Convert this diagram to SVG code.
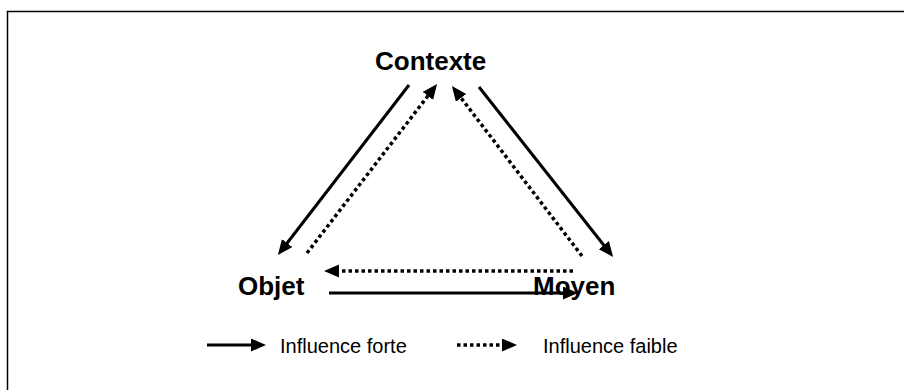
<svg xmlns="http://www.w3.org/2000/svg" width="904" height="390" viewBox="0 0 904 390">
<style>
.lbl{font-family:"Liberation Sans",Arial,sans-serif;font-weight:bold;font-size:26px;fill:#000}
.leg{font-family:"Liberation Sans",Arial,sans-serif;font-size:20px;fill:#000}
.strong{stroke:#000;stroke-width:3;fill:none;marker-end:url(#ah)}
.weak{stroke:#000;stroke-width:3.5;stroke-dasharray:3.5 3;fill:none;marker-end:url(#ah)}
</style>
<defs>
<marker id="ah" markerUnits="userSpaceOnUse" markerWidth="16" markerHeight="14" refX="10" refY="6.5" orient="auto">
<path d="M0,0 L15,6.5 L0,13 z" fill="#000"/>
</marker>
</defs>
<rect width="904" height="390" fill="#fff"/>
<path d="M7.5,390 V11.5 H904" fill="none" stroke="#000" stroke-width="1.5"/>
<g id="node-contexte"><text class="lbl" x="375" y="70">Contexte</text></g>
<g id="node-objet"><text class="lbl" x="238" y="295">Objet</text></g>
<g id="node-moyen"><text class="lbl" x="533" y="295">Moyen</text></g>
<g id="connectors">
<line class="strong" x1="409" y1="85" x2="281" y2="251"/>
<line class="weak" x1="307" y1="253" x2="434" y2="88"/>
<line class="weak" x1="582" y1="256" x2="455" y2="90"/>
<line class="strong" x1="479" y1="87" x2="610" y2="253"/>
<line class="weak" x1="573" y1="271" x2="329" y2="271"/>
<line class="strong" x1="329" y1="293" x2="573" y2="293"/>
</g>
<g id="legend">
<line class="strong" x1="207" y1="345" x2="261" y2="345"/>
<text class="leg" x="280" y="353">Influence forte</text>
<line class="weak" x1="457" y1="345" x2="512" y2="345"/>
<text class="leg" x="543" y="353">Influence faible</text>
</g>
</svg>
